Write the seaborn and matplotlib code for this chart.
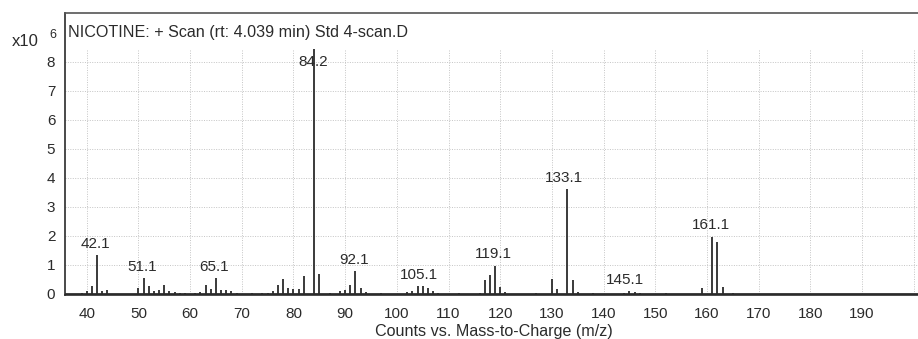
import matplotlib
matplotlib.use("Agg")
import matplotlib.pyplot as plt
import seaborn as sns
import pandas as pd

# peak list (counts in units of 10^6)
mz = [39, 40, 41, 42, 43, 44,
      50, 51, 52, 53, 54, 55, 56, 57, 58, 59, 61,
      62, 63, 64, 65, 66, 67, 68, 69, 72,
      74, 75, 76, 77, 78, 79, 80, 81, 82,
      84, 85, 87,
      89, 90, 91, 92, 93, 94, 97,
      102, 103, 104, 105, 106, 107, 108, 112,
      116, 117, 118, 119, 120, 121, 127,
      130, 131, 133, 134, 135, 138,
      144, 145, 146, 147, 152,
      159, 161, 162, 163, 165]
counts = [0.03, 0.11, 0.29, 1.34, 0.10, 0.14,
          0.22, 0.54, 0.29, 0.11, 0.15, 0.32, 0.11, 0.06, 0.05, 0.04, 0.03,
          0.08, 0.32, 0.18, 0.55, 0.15, 0.15, 0.09, 0.05, 0.02,
          0.05, 0.05, 0.10, 0.32, 0.50, 0.20, 0.17, 0.17, 0.61,
          8.45, 0.68, 0.03,
          0.10, 0.15, 0.32, 0.79, 0.21, 0.07, 0.02,
          0.07, 0.12, 0.26, 0.26, 0.22, 0.12, 0.04, 0.02,
          0.05, 0.47, 0.64, 0.98, 0.24, 0.06, 0.02,
          0.53, 0.17, 3.62, 0.47, 0.08, 0.02,
          0.03, 0.10, 0.07, 0.05, 0.02,
          0.21, 1.98, 1.80, 0.25, 0.02]

label_text = ["42.1", "51.1", "65.1", "84.2", "92.1", "105.1", "119.1", "133.1", "145.1", "161.1"]
label_mz = [42, 51, 65, 84, 92, 104.6, 119, 132.6, 144.4, 161]

x_ticks = [40, 50, 60, 70, 80, 90, 100, 110, 120, 130, 140, 150, 160, 170, 180, 190, 200]
y_ticks = [0, 1, 2, 3, 4, 5, 6, 7, 8]

df = pd.DataFrame({"mz": mz, "counts": counts})

sns.set_style("white")
plt.rcParams["font.family"] = ["Liberation Sans", "DejaVu Sans"]
ink = "#2b2b2b"
grid_c = "#c4c4c4"

fig = plt.figure(figsize=(9.18, 3.39), dpi=100)
ax = fig.add_axes([0.0708, 0.1298, 0.935, 0.8319])

x_lo, x_hi = 35.8, 201.85
ax.set_xlim(x_lo, x_hi)
ax.set_ylim(-0.035, 9.69)

# dotted grid that stops below the title strip
ax.vlines(x_ticks, 0, 8.45, colors=grid_c, linestyles=(0, (1, 1.5)), lw=0.7, zorder=0)
ax.hlines(y_ticks[1:], x_lo, x_hi, colors=grid_c, linestyles=(0, (1, 1.5)), lw=0.7, zorder=0)

# stick spectrum
ax.vlines(df["mz"], 0, df["counts"], colors=ink, lw=1.3, zorder=3)
ax.axhline(0, color=ink, lw=2.0, zorder=4)

lookup = dict(zip(df["mz"], df["counts"]))
for txt, xm in zip(label_text, label_mz):
    near = [v for k, v in lookup.items() if abs(k - xm) <= 1]
    top = min(max(near), 7.6)
    ax.annotate(txt, (xm, top), xytext=(-1, 3), textcoords="offset points",
                ha="center", va="bottom", fontsize=11, color=ink, zorder=5)

ax.set_xticks(x_ticks)
ax.set_xticklabels([str(t) if t < 200 else "" for t in x_ticks])
ax.set_yticks(y_ticks)
ax.tick_params(axis="both", direction="out", length=4, width=1, color=ink,
               labelsize=11, labelcolor=ink, pad=3)
ax.tick_params(axis="x", pad=5)
for s in ax.spines.values():
    s.set_color(ink)
    s.set_linewidth(1.2)
ax.spines["right"].set_visible(False)
ax.spines["top"].set_color("#555555")

ax.set_xlabel("Counts vs. Mass-to-Charge (m/z)", fontsize=11.6, color=ink, labelpad=2)

fig.text(68 / 918, 1 - 32 / 339, "NICOTINE: + Scan (rt: 4.039 min) Std 4-scan.D",
         fontsize=11.6, color=ink, ha="left", va="center")
fig.text(12 / 918, 1 - 42 / 339, "x10", fontsize=12, color=ink, ha="left", va="center")
fig.text(49 / 918, 1 - 35 / 339, "6", fontsize=9, color=ink, ha="left", va="center")

fig.savefig("out.png", dpi=100)
